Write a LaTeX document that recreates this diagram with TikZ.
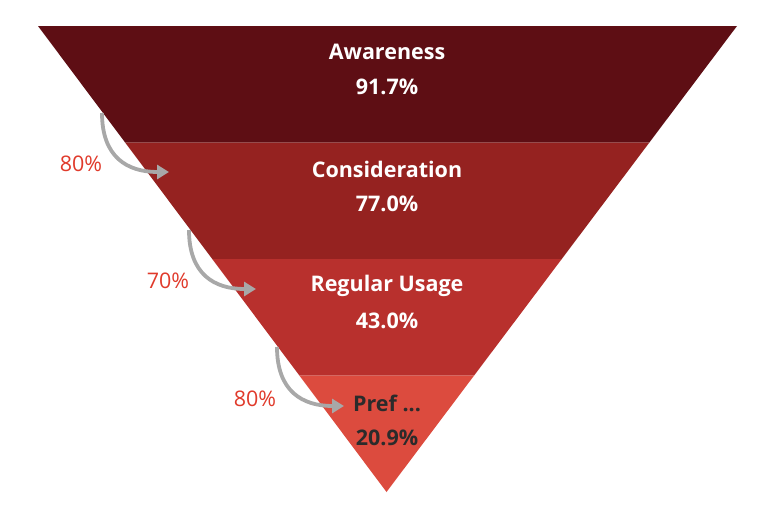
\documentclass[tikz,border=0pt]{standalone}
\usepackage{fontspec}
\setmainfont{Open Sans}
\usetikzlibrary{calc, arrows.meta}

\begin{document}
\begin{tikzpicture}
    [x=1pt, y=-1pt, line cap=round,
    % Styles
    stage text/.style={font=\bfseries\fontsize{21.5}{24}\selectfont, text=white, inner sep=0pt},
    rate text/.style={font=\fontsize{21.5}{24}\selectfont, text=ratecolor, inner sep=0pt},
    flow arrow/.style={line width=3.8pt, draw=arrowcolor, line cap=butt,
        -{Triangle[length=12pt, width=14pt]}}]

    % Colors
    \definecolor{bandone}{HTML}{5E0E14}
    \definecolor{bandtwo}{HTML}{952220}
    \definecolor{bandthree}{HTML}{B8302D}
    \definecolor{bandfour}{HTML}{DC4B3E}
    \definecolor{ratecolor}{HTML}{E03A2B}
    \definecolor{arrowcolor}{HTML}{A8A8A8}
    \definecolor{darktext}{HTML}{2B2B2B}

    \useasboundingbox (0,0) rectangle (768,504);

    % Coordinates
    \coordinate (TL) at (38,26);
    \coordinate (TR) at (737,26);
    \coordinate (apex) at (386.5,492);
    \foreach \i/\f in {1/0.25, 2/0.5, 3/0.75} {
        \coordinate (L\i) at ($(TL)!\f!(apex)$);
        \coordinate (R\i) at ($(TR)!\f!(apex)$);
    }

    % Graphic
    \fill[bandone] (TL) -- (TR) -- (R1) -- (L1) -- cycle;
    \fill[bandtwo] (L1) -- (R1) -- (R2) -- (L2) -- cycle;
    \fill[bandthree] (L2) -- (R2) -- (R3) -- (L3) -- cycle;
    \fill[bandfour] (L3) -- (R3) -- (apex) -- cycle;

    \node[stage text] (aware) at (387,52) {Awareness};
    \node[stage text] (awarepct) at (387,87) {91.7\%};
    \node[stage text] (consid) at (387,169) {Consideration};
    \node[stage text] (considpct) at (387,204) {77.0\%};
    \node[stage text] (usage) at (387,286) {Regular Usage};
    \node[stage text] (usagepct) at (387,321) {43.0\%};
    \node[stage text, text=darktext] (pref) at (387,403) {Pref ...};
    \node[stage text, text=darktext] (prefpct) at (387,438) {20.9\%};

    \node[rate text] (rate1) at (81,164) {80\%};
    \node[rate text] (rate2) at (168,281) {70\%};
    \node[rate text] (rate3) at (255,399) {80\%};

    % Arrows
    \foreach \i/\x/\y in {1/102/113, 2/189/230, 3/277/347} {
        \coordinate (s\i) at (\x,\y);
        \coordinate (e\i) at (\x+67,\y+59);
        \draw[flow arrow] (s\i) .. controls ($(s\i)+(0,44)$) and ($(e\i)+(-42,0)$) .. (e\i);
    }

\end{tikzpicture}
\end{document}
